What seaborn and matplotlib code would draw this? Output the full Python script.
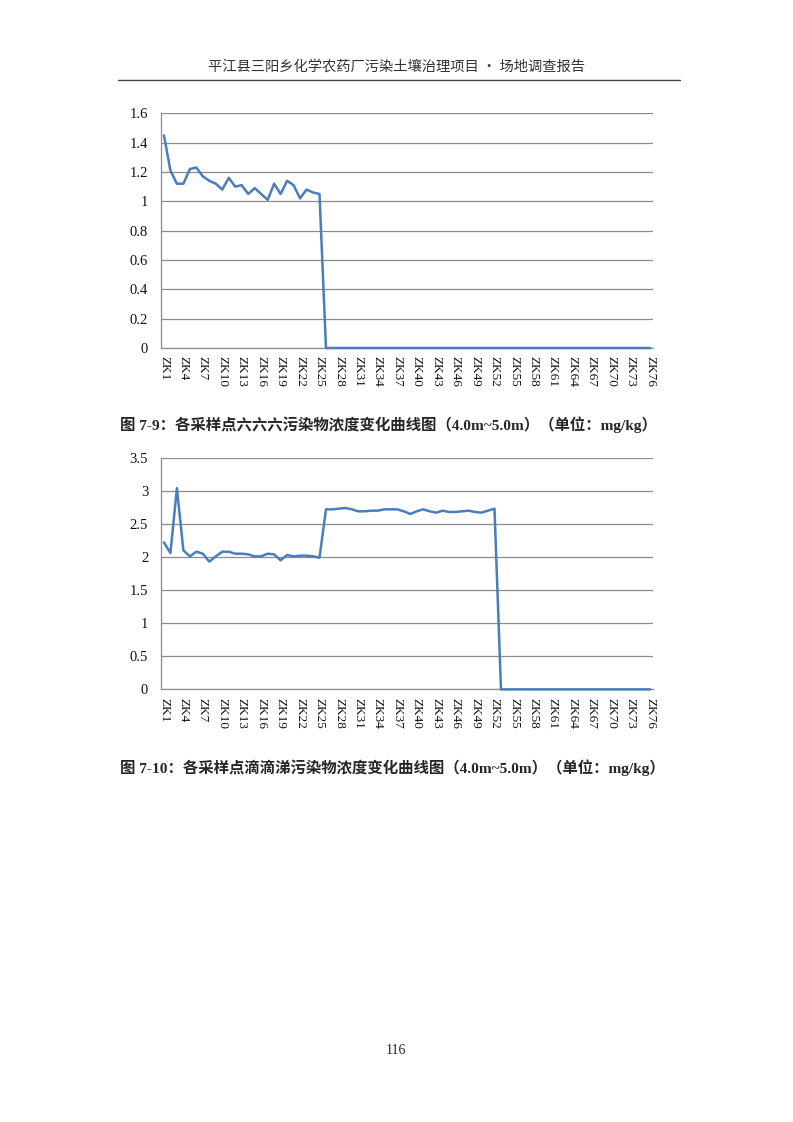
import matplotlib
matplotlib.use("Agg")
import matplotlib.pyplot as plt
from matplotlib.lines import Line2D
from matplotlib.ticker import FixedLocator
import pandas as pd
import seaborn as sns

sns.set_style("white")
plt.rcParams["font.family"] = ["Liberation Serif", "Noto Sans CJK SC"]
plt.rcParams["axes.unicode_minus"] = False

# 采样点编号 ZK1 ~ ZK76
points = [f"ZK{i}" for i in range(1, 77)]

# 六六六 (4.0m~5.0m)
hch_values = [
    1.45, 1.21, 1.12, 1.12, 1.22, 1.23, 1.17, 1.14, 1.12, 1.08,
    1.16, 1.10, 1.11, 1.05, 1.09, 1.05, 1.01, 1.12, 1.05, 1.14,
    1.11, 1.02, 1.08, 1.06, 1.05, 0.00, 0.00, 0.00, 0.00, 0.00,
    0.00, 0.00, 0.00, 0.00, 0.00, 0.00, 0.00, 0.00, 0.00, 0.00,
    0.00, 0.00, 0.00, 0.00, 0.00, 0.00, 0.00, 0.00, 0.00, 0.00,
    0.00, 0.00, 0.00, 0.00, 0.00, 0.00, 0.00, 0.00, 0.00, 0.00,
    0.00, 0.00, 0.00, 0.00, 0.00, 0.00, 0.00, 0.00, 0.00, 0.00,
    0.00, 0.00, 0.00, 0.00, 0.00, 0.00,
]

# 滴滴涕 (4.0m~5.0m)
ddt_values = [
    2.22, 2.06, 3.04, 2.10, 2.01, 2.08, 2.05, 1.93, 2.01, 2.08,
    2.08, 2.05, 2.05, 2.04, 2.01, 2.01, 2.05, 2.04, 1.95, 2.03,
    2.01, 2.02, 2.02, 2.01, 1.99, 2.72, 2.72, 2.73, 2.74, 2.72,
    2.69, 2.69, 2.70, 2.70, 2.72, 2.72, 2.72, 2.69, 2.65, 2.69,
    2.72, 2.69, 2.67, 2.70, 2.68, 2.68, 2.69, 2.70, 2.68, 2.67,
    2.70, 2.73, 0.00, 0.00, 0.00, 0.00, 0.00, 0.00, 0.00, 0.00,
    0.00, 0.00, 0.00, 0.00, 0.00, 0.00, 0.00, 0.00, 0.00, 0.00,
    0.00, 0.00, 0.00, 0.00, 0.00, 0.00,
]

hch_yticks = [0, 0.2, 0.4, 0.6, 0.8, 1, 1.2, 1.4, 1.6]
hch_ylabels = ["0", "0.2", "0.4", "0.6", "0.8", "1", "1.2", "1.4", "1.6"]
ddt_yticks = [0, 0.5, 1, 1.5, 2, 2.5, 3, 3.5]
ddt_ylabels = ["0", "0.5", "1", "1.5", "2", "2.5", "3", "3.5"]

header = "平江县三阳乡化学农药厂污染土壤治理项目 • 场地调查报告"
caption1 = "图 7-9：各采样点六六六污染物浓度变化曲线图（4.0m~5.0m）（单位：mg/kg）"
caption2 = "图 7-10：各采样点滴滴涕污染物浓度变化曲线图（4.0m~5.0m）（单位：mg/kg）"
page_no = "116"

W, H = 793, 1122
LINE_COLOR = "#4a7ebb"
GRID_COLOR = "#8c8c8c"


def draw_chart(ax, values, yticks, ylabels):
    df = pd.DataFrame({"point": points, "value": values})
    sns.lineplot(data=df, x="point", y="value", ax=ax, color=LINE_COLOR,
                 linewidth=1.8, sort=False, clip_on=False, zorder=5)
    n = len(points)
    ax.set_xlim(-0.5, n - 0.5)
    ax.set_ylim(yticks[0], yticks[-1])
    ax.set_yticks(yticks)
    ax.set_yticklabels(ylabels, fontsize=10.5, color="#111111")
    ax.set_xticks(range(0, n, 3))
    ax.set_xticklabels(points[::3], rotation=270, fontsize=9.5, color="#111111")
    ax.xaxis.set_minor_locator(FixedLocator([i - 0.5 for i in range(n + 1)]))
    ax.tick_params(axis="x", which="major", length=0, pad=6)
    ax.tick_params(axis="x", which="minor", length=3, width=0.7,
                   color=GRID_COLOR, direction="out")
    ax.tick_params(axis="y", length=4, width=0.7, color=GRID_COLOR,
                   direction="out", pad=5)
    ax.set_xlabel("")
    ax.set_ylabel("")
    ax.grid(axis="y", color=GRID_COLOR, linewidth=0.9)
    ax.set_axisbelow(True)
    for side in ["top", "right"]:
        ax.spines[side].set_visible(False)
    for side in ["left", "bottom"]:
        ax.spines[side].set_color(GRID_COLOR)
        ax.spines[side].set_linewidth(0.9)


fig = plt.figure(figsize=(W / 100, H / 100), dpi=100)

ax1 = fig.add_axes([160.7 / W, 1 - 348 / H, 492.6 / W, 234.7 / H])
draw_chart(ax1, hch_values, hch_yticks, hch_ylabels)

ax2 = fig.add_axes([160.7 / W, 1 - 689.4 / H, 492.6 / W, 231.7 / H])
draw_chart(ax2, ddt_values, ddt_yticks, ddt_ylabels)

# 页眉
fig.text(396 / W, 1 - 67 / H, header, ha="center", va="center", fontsize=10.3,
         color="#333333", family=["Noto Sans CJK SC"])
fig.add_artist(Line2D([118 / W, 680 / W], [1 - 80 / H, 1 - 80 / H],
                      color="#444444", linewidth=1))

# 图题
fig.text(120 / W, 1 - 425 / H, caption1, ha="left", va="center",
         fontsize=11.1, fontweight="bold")
fig.text(120 / W, 1 - 768 / H, caption2, ha="left", va="center",
         fontsize=11.1, fontweight="bold")

# 页码
fig.text(396 / W, 1 - 1050 / H, page_no, ha="center", va="center", fontsize=10)

fig.savefig("out.png", dpi=100)
plt.close(fig)
